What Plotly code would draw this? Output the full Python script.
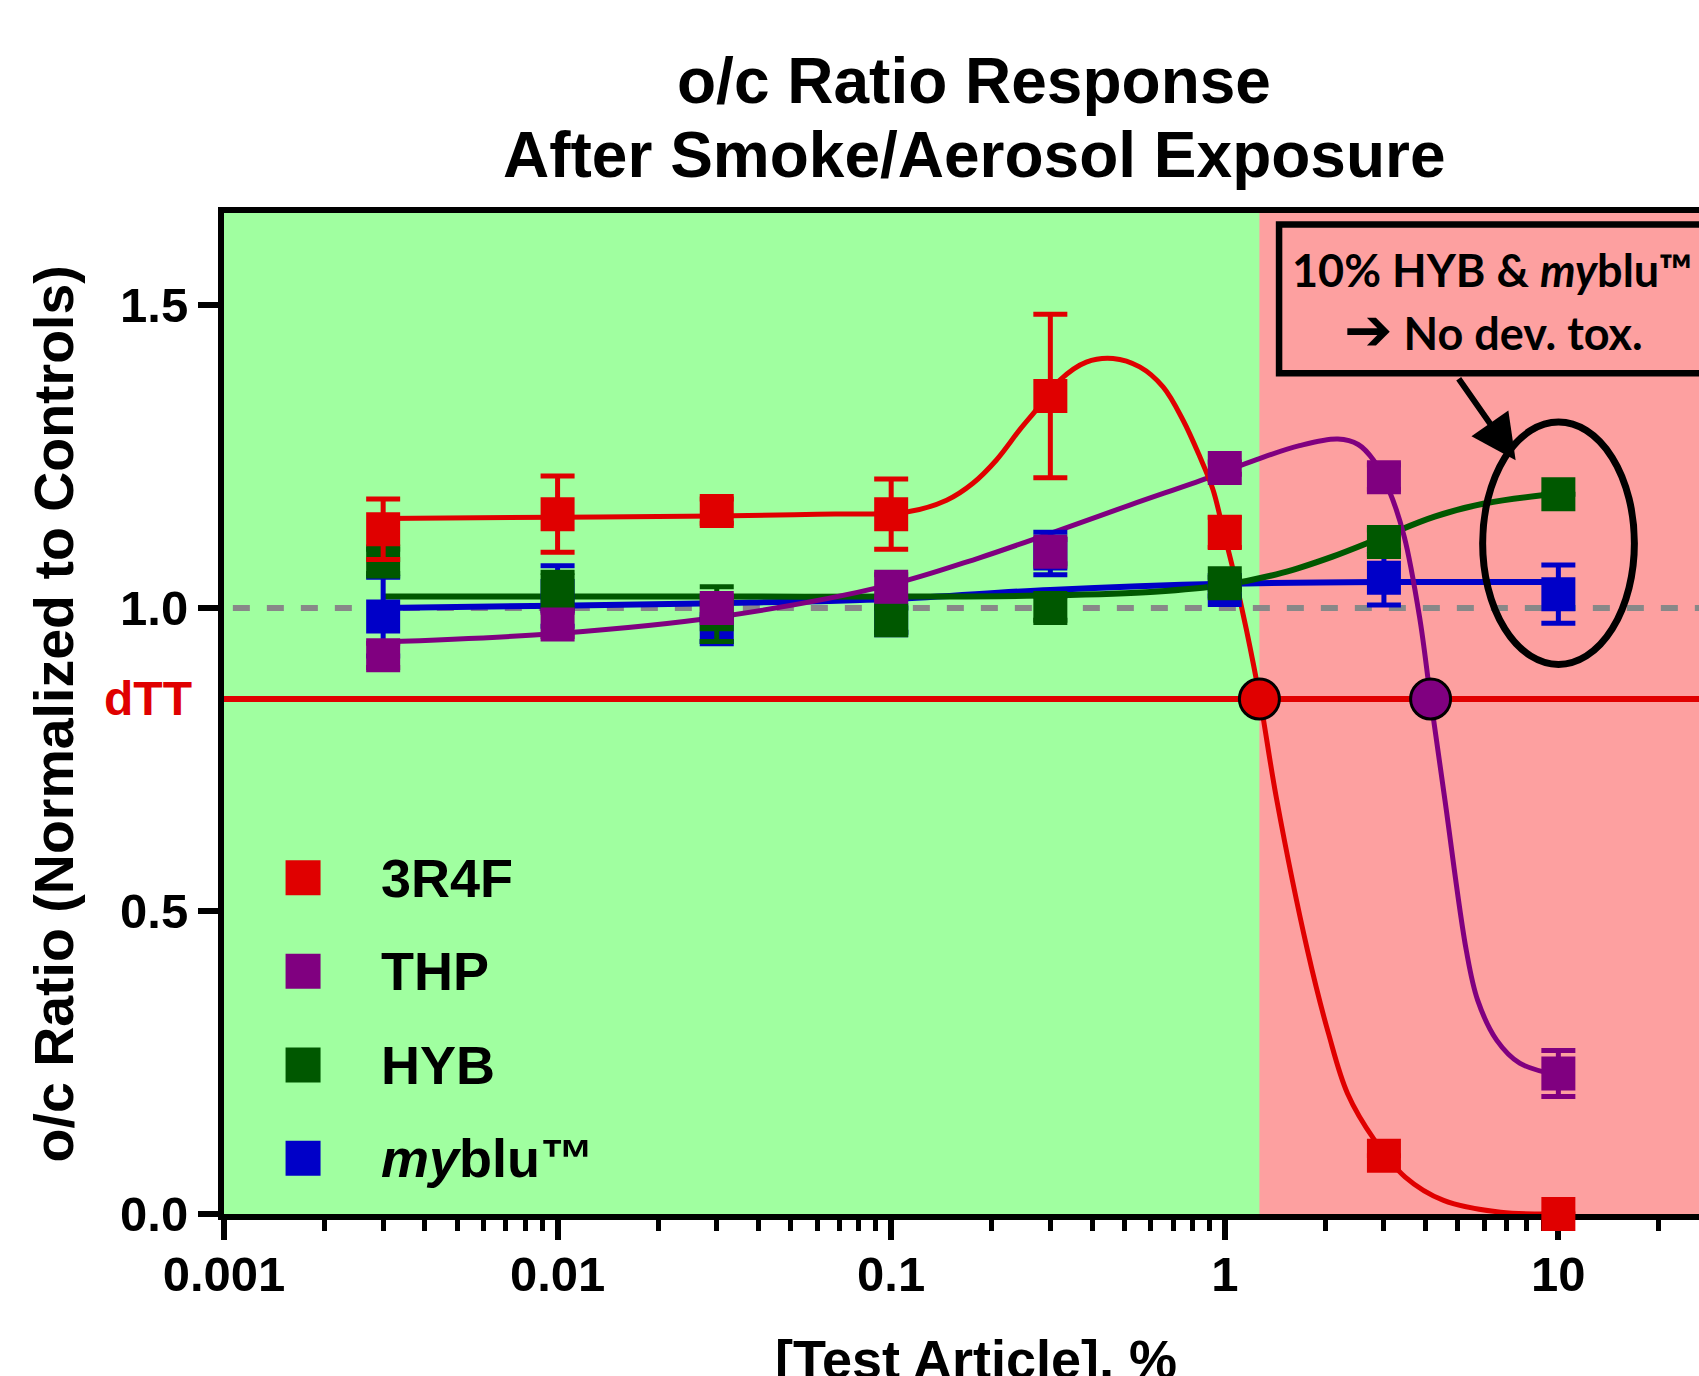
import numpy as np
import plotly.graph_objects as go

# ---------------- data ----------------
conc = [0.003, 0.01, 0.03, 0.1, 0.3, 1, 3, 10]

r3r4f_mean = [1.13, 1.155, 1.16, 1.155, 1.35, 1.125, 0.096, 0.0]
r3r4f_err = [0.05, 0.063, 0.02, 0.058, 0.135, 0.025, 0.0, 0.0]

thp_mean = [0.922, 0.973, 1.0, 1.035, 1.093, 1.231, 1.216, 0.232]
thp_err = [0.02, 0.02, 0.02, 0.02, 0.02, 0.01, 0.02, 0.038]

hyb_mean = [1.077, 1.029, 0.99, 0.98, 1.0, 1.041, 1.109, 1.188]
hyb_err = [0.02, 0.03, 0.045, 0.02, 0.02, 0.01, 0.02, 0.0]

myblu_mean = [0.986, 1.02, 0.965, 0.98, 1.09, 1.03, 1.05, 1.023]
myblu_err = [0.065, 0.05, 0.02, 0.02, 0.035, 0.01, 0.045, 0.048]

# fitted curves
r3r4f_fit_x = [0.003, 0.01, 0.03, 0.06, 0.1122, 0.1466, 0.1758, 0.2065, 0.2427, 0.2723,
               0.3199, 0.3846, 0.4624, 0.5559, 0.6531, 0.7499, 0.8414, 0.9226, 0.9886,
               1.0593, 1.1614, 1.274, 1.432, 1.77, 2.046, 2.333, 2.812, 3.475, 4.529,
               6.714, 10]
r3r4f_fit_y = [1.148, 1.15, 1.152, 1.155, 1.159, 1.178, 1.206, 1.244, 1.294, 1.327,
               1.376, 1.406, 1.412, 1.398, 1.365, 1.31, 1.25, 1.195, 1.129,
               1.063, 0.964, 0.851, 0.683, 0.435, 0.298, 0.199, 0.122, 0.061, 0.0225,
               0.003, 0.0]

thp_fit_x = [0.003, 0.0099, 0.030, 0.097, 0.184, 0.299, 0.519, 0.891, 1.245, 1.675,
             2.183, 2.512, 2.793, 3.105, 3.451, 3.837, 4.14, 4.571, 5.297, 5.728,
             6.531, 7.656, 10]
thp_fit_y = [0.944, 0.958, 0.985, 1.037, 1.083, 1.123, 1.170, 1.215, 1.245, 1.268,
             1.279, 1.27, 1.244, 1.195, 1.118, 0.985, 0.851, 0.683, 0.435, 0.353,
             0.287, 0.249, 0.229]

hyb_fit_x = [0.003, 0.01, 0.03, 0.106, 0.305, 0.615, 0.993, 1.483, 2.104, 2.992,
             4.256, 6.053, 10]
hyb_fit_y = [1.019, 1.019, 1.019, 1.019, 1.021, 1.027, 1.038, 1.058, 1.085, 1.118,
             1.151, 1.173, 1.189]

myblu_fit_x = [0.003, 0.01, 0.03, 0.1, 0.3, 1, 3, 10]
myblu_fit_y = [1.0, 1.004, 1.008, 1.015, 1.03, 1.04, 1.043, 1.043]

dtt_level = 0.85
dtt_x = [1.27, 4.14]          # dTT crossings of 3R4F and THP
green_zone_end = 1.27
control_level = 1.0

ellipse_x = [5.93, 16.9]
ellipse_y = [0.907, 1.307]

names = ["3R4F", "THP", "HYB", "<i>my</i>blu™"]
colors = ["#E00000", "#800080", "#005800", "#0000C8"]

x_ticks = [0.001, 0.01, 0.1, 1, 10]
x_tick_text = ["0.001", "0.01", "0.1", "1", "10"]
y_ticks = [0.0, 0.5, 1.0, 1.5]

# ---------------- style ----------------
FONT = "Liberation Sans, Arial, sans-serif"
BOX_FONT = "Lato, Open Sans, sans-serif"
GREEN_BG = "#A0FFA0"
PINK_BG = "#FDA0A0"
X_RANGE = [-3, 1.4216]
Y_RANGE = [0, 1.652]

fig = go.Figure()

means = [r3r4f_mean, thp_mean, hyb_mean, myblu_mean]
errs = [r3r4f_err, thp_err, hyb_err, myblu_err]
fits = [(r3r4f_fit_x, r3r4f_fit_y), (thp_fit_x, thp_fit_y),
        (hyb_fit_x, hyb_fit_y), (myblu_fit_x, myblu_fit_y)]
widths = [5, 5, 6, 6]

# curves (draw order: blue, green, purple, red)
for i in [3, 2, 1, 0]:
    fx, fy = fits[i]
    fig.add_trace(go.Scatter(
        x=fx, y=fy, mode="lines", line=dict(color=colors[i], width=widths[i],
                                            shape="spline", smoothing=1.0),
        showlegend=False, hoverinfo="skip"))

# points with error bars
for i in [3, 2, 1, 0]:
    fig.add_trace(go.Scatter(
        x=conc, y=means[i], mode="markers",
        marker=dict(symbol="square", size=34, color=colors[i], line=dict(width=0)),
        error_y=dict(type="data", array=errs[i], visible=True, color=colors[i],
                     thickness=5, width=17),
        cliponaxis=False, showlegend=False, name=names[i]))

# dTT crossing circles
fig.add_trace(go.Scatter(
    x=dtt_x, y=[dtt_level] * len(dtt_x), mode="markers",
    marker=dict(symbol="circle", size=40, color=[colors[0], colors[1]],
                line=dict(color="black", width=3)),
    showlegend=False, cliponaxis=False))

# manual legend on an overlay axis (0..1 of plot area)
leg_x = 0.0536
leg_y = [0.3358, 0.2425, 0.1489, 0.0558]
fig.add_trace(go.Scatter(
    x=[leg_x] * 4, y=leg_y, xaxis="x2", yaxis="y2", mode="markers",
    marker=dict(symbol="square", size=35, color=colors),
    showlegend=False, hoverinfo="skip", cliponaxis=False))
for nm, yy in zip(names, leg_y):
    fig.add_annotation(text="<b>" + nm + "</b>", x=0.105, y=yy, xref="paper", yref="paper",
                       xanchor="left", yanchor="middle", showarrow=False,
                       font=dict(family=FONT, size=54, color="black"))

shapes = []
# pink toxic zone
shapes.append(dict(type="rect", xref="x", yref="paper", x0=green_zone_end,
                   x1=100, y0=0, y1=1, fillcolor=PINK_BG,
                   line=dict(width=0), layer="below"))
# control dashed line
shapes.append(dict(type="line", xref="paper", yref="y", x0=0.006, x1=1.0,
                   y0=control_level, y1=control_level,
                   line=dict(color="#888888", width=6, dash="17px,17px"), layer="below"))
# dTT line
shapes.append(dict(type="line", xref="paper", yref="y", x0=0, x1=1.0,
                   y0=dtt_level, y1=dtt_level,
                   line=dict(color="#E00000", width=6), layer="below"))
# ellipse
shapes.append(dict(type="circle", xref="x", yref="y",
                   x0=ellipse_x[0], x1=ellipse_x[1],
                   y0=ellipse_y[0], y1=ellipse_y[1],
                   line=dict(color="black", width=7), layer="above"))
# annotation box
shapes.append(dict(type="rect", xref="paper", yref="paper", x0=0.7153, x1=1.05,
                   y0=0.8398, y1=0.9885, fillcolor=PINK_BG,
                   line=dict(color="black", width=6.5), layer="above"))

fig.update_layout(shapes=shapes)

# annotation box text
fig.add_annotation(text="<b>10% HYB & <i>my</i>blu™</b>", x=0.8597, y=0.943,
                   xref="paper", yref="paper", showarrow=False,
                   xanchor="center", yanchor="middle",
                   font=dict(family=BOX_FONT, size=45, color="black"))
fig.add_annotation(
    text='<b><span style="font-family:DejaVu Sans;font-size:58px">➔</span> No dev. tox.</b>',
    x=0.861, y=0.883, xref="paper", yref="paper", showarrow=False,
    xanchor="center", yanchor="middle",
    font=dict(family=BOX_FONT, size=45, color="black"))
# arrow to ellipse
fig.add_annotation(text="", x=0.872, y=1.244, xref="x", yref="y",
                   showarrow=True, ax=-58, ay=-83, axref="pixel", ayref="pixel",
                   arrowhead=2, arrowsize=1.5, arrowwidth=6, arrowcolor="black",
                   standoff=0)

# dTT label
fig.add_annotation(text="<b>dTT</b>", x=0, xshift=-30, y=dtt_level, xref="paper", yref="y",
                   xanchor="right", yanchor="middle", showarrow=False,
                   font=dict(family=FONT, size=48, color="#E00000"))

# titles
fig.add_annotation(text="<b>o/c Ratio Response</b>", x=0.5085, y=1.132, xref="paper",
                   yref="paper", showarrow=False, xanchor="center", yanchor="middle",
                   font=dict(family=FONT, size=64, color="black"))
fig.add_annotation(text="<b>After Smoke/Aerosol Exposure</b>", x=0.5085, y=1.058,
                   xref="paper", yref="paper", showarrow=False, xanchor="center",
                   yanchor="middle", font=dict(family=FONT, size=64, color="black"))
fig.add_annotation(text="<b>[Test Article], %</b>", x=0.51, y=-0.145, xref="paper",
                   yref="paper", showarrow=False, xanchor="center", yanchor="middle",
                   font=dict(family=FONT, size=54, color="black"))
fig.add_annotation(text="<b>o/c Ratio (Normalized to Controls)</b>", x=-0.1153, y=0.5,
                   xref="paper", yref="paper", showarrow=False, textangle=-90,
                   xanchor="center", yanchor="middle",
                   font=dict(family=FONT, size=55.5, color="black"))

minor_vals = [m * 10.0 ** e for e in range(-3, 2) for m in range(2, 10)]

fig.update_layout(
    width=1699, height=1376,
    margin=dict(l=224, r=0, t=213, b=162),
    paper_bgcolor="white", plot_bgcolor=GREEN_BG,
    font=dict(family=FONT, color="black"),
    xaxis=dict(type="log", range=X_RANGE, showgrid=False, zeroline=False,
               showline=True, linecolor="black", linewidth=6, mirror=True,
               ticks="outside", ticklen=20, tickwidth=6, tickcolor="black",
               tickvals=x_ticks, ticktext=["<b>%s</b>" % t for t in x_tick_text],
               tickfont=dict(family=FONT, size=49, color="black"),
               ticklabelstandoff=-8,
               minor=dict(ticks="outside", ticklen=11, tickwidth=5, tickcolor="black",
                          tickvals=minor_vals, showgrid=False),
               layer="below traces"),
    yaxis=dict(range=Y_RANGE, showgrid=False, zeroline=False,
               showline=True, linecolor="black", linewidth=6, mirror=False,
               ticks="outside", ticklen=20, tickwidth=6, tickcolor="black",
               tickvals=y_ticks, ticktext=["<b>%.1f</b>" % v for v in y_ticks],
               tickfont=dict(family=FONT, size=49, color="black")),
    xaxis2=dict(overlaying="x", range=[0, 1], visible=False, anchor="y2"),
    yaxis2=dict(overlaying="y", range=[0, 1], visible=False, anchor="x2"),
)

fig.write_html("out.html", config={"displayModeBar": False},
               post_script="document.body.style.margin='0px';")
